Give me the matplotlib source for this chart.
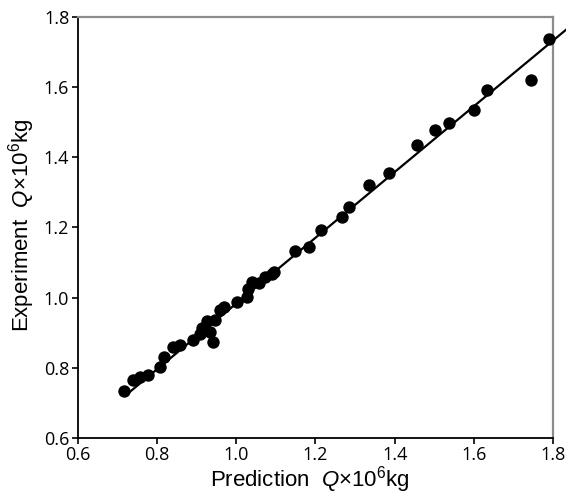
import matplotlib
matplotlib.use("Agg")
import matplotlib.pyplot as plt

plt.rcParams['mathtext.fontset'] = 'custom'
plt.rcParams['mathtext.it'] = 'Liberation Sans:italic'
plt.rcParams['mathtext.rm'] = 'Liberation Sans'

pred = [0.718, 0.741, 0.758, 0.779, 0.808, 0.817, 0.842, 0.859, 0.891, 0.909,
        0.913, 0.926, 0.934, 0.943, 0.947, 0.960, 0.970, 1.002, 1.027, 1.031,
        1.041, 1.059, 1.073, 1.090, 1.096, 1.149, 1.184, 1.214, 1.267, 1.285,
        1.336, 1.386, 1.456, 1.502, 1.537, 1.599, 1.633, 1.745, 1.790]
expt = [0.733, 0.764, 0.773, 0.778, 0.802, 0.831, 0.859, 0.864, 0.878, 0.897,
        0.912, 0.933, 0.902, 0.874, 0.935, 0.964, 0.972, 0.987, 1.002, 1.023,
        1.043, 1.041, 1.058, 1.068, 1.074, 1.134, 1.145, 1.193, 1.229, 1.259,
        1.320, 1.356, 1.434, 1.479, 1.499, 1.534, 1.593, 1.620, 1.738]
fit_x = [0.728, 1.833]
fit_y = [0.727, 1.765]
ticks = [0.6, 0.8, 1.0, 1.2, 1.4, 1.6, 1.8]
tick_labels = ["0.6", "0.8", "1.0", "1.2", "1.4", "1.6", "1.8"]

fig = plt.figure(figsize=(5.66, 4.96), dpi=100)
ax = fig.add_axes([77.5/566, 1-437.7/496, (553.3-77.5)/566, (437.7-17.2)/496])

ax.plot(fit_x, fit_y, color="black", lw=1.6, clip_on=False, zorder=2)
ax.scatter(pred, expt, s=80, color="black", zorder=3, clip_on=False, linewidths=0)

ax.set_xlim(0.6, 1.8)
ax.set_ylim(0.6, 1.8)
ax.set_xticks(ticks)
ax.set_yticks(ticks)
ax.set_xticklabels(tick_labels, fontfamily="Open Sans", fontsize=13)
ax.set_yticklabels(tick_labels, fontfamily="Open Sans", fontsize=13)
ax.tick_params(direction="out", length=4, width=1.2, color="black", pad=2)

for s in ["left", "bottom"]:
    ax.spines[s].set_color("black")
    ax.spines[s].set_linewidth(1.3)
for s in ["top", "right"]:
    ax.spines[s].set_color("#8c8c8c")
    ax.spines[s].set_linewidth(1.6)

ax.set_xlabel(r"Prediction  $\mathit{Q}$×10$^6$kg", fontfamily="Liberation Sans",
              fontsize=16, va="center")
ax.set_ylabel(r"Experiment  $\mathit{Q}$×10$^6$kg", fontfamily="Liberation Sans",
              fontsize=16, va="center")
ax.xaxis.set_label_coords((310-77.5)/475.8, -(480-437.7)/420.5)
ax.yaxis.set_label_coords(-(77.5-22)/475.8, (437.7-225)/420.5)

fig.savefig("out.png", dpi=100)
